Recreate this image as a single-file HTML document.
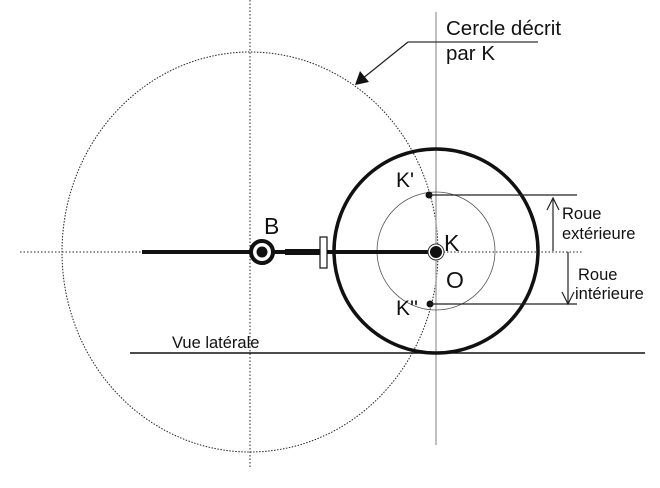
<!DOCTYPE html>
<html><head><style>body{margin:0;background:#fff}svg{display:block}text{font-family:"Liberation Sans",sans-serif;fill:#111}</style></head><body>
<svg width="660" height="488" viewBox="0 0 660 488">
<line x1="250" y1="0" x2="250" y2="468" stroke="#222" stroke-width="1" stroke-dasharray="1.5,2"/>
<ellipse cx="250" cy="252" rx="188" ry="200" fill="none" stroke="#222" stroke-width="1" stroke-dasharray="1.5,1.5"/>
<line x1="20" y1="252" x2="582" y2="252" stroke="#222" stroke-width="1" stroke-dasharray="1.5,2"/>
<line x1="436" y1="12" x2="436" y2="445" stroke="#aaa" stroke-width="1.5"/>
<line x1="408" y1="42" x2="538" y2="42" stroke="#333" stroke-width="1.2"/>
<line x1="408" y1="42" x2="362" y2="79" stroke="#222" stroke-width="1.3"/>
<polygon points="355,85 360,71 369,82" fill="#111"/>
<text x="446" y="35" font-size="20.5">Cercle décrit</text>
<text x="446" y="60" font-size="20.5">par K</text>
<circle cx="436" cy="251" r="102" fill="none" stroke="#111" stroke-width="3.5"/>
<circle cx="436" cy="251" r="59" fill="none" stroke="#555" stroke-width="0.8"/>
<line x1="130" y1="353" x2="645" y2="353" stroke="#111" stroke-width="1.5"/>
<text x="172" y="348" font-size="16.5">Vue latérale</text>
<line x1="142" y1="252" x2="436" y2="252" stroke="#111" stroke-width="4"/>
<line x1="285" y1="252" x2="320" y2="252" stroke="#111" stroke-width="6"/>
<rect x="320" y="237" width="7" height="31" fill="#fff" stroke="#111" stroke-width="1.2"/>
<circle cx="262" cy="252" r="11" fill="#fff" stroke="#111" stroke-width="4"/>
<circle cx="262" cy="252" r="5.5" fill="#111"/>
<text x="264" y="234" font-size="23">B</text>
<circle cx="436" cy="252" r="8" fill="#fff" stroke="#333" stroke-width="1"/>
<circle cx="436" cy="252" r="6" fill="#111"/>
<text x="444" y="251" font-size="23">K</text>
<text x="446" y="288" font-size="23">O</text>
<text x="396" y="187" font-size="21">K'</text>
<text x="396" y="315" font-size="21">K''</text>
<circle cx="429" cy="195" r="3.5" fill="#111"/>
<circle cx="430" cy="304" r="3.5" fill="#111"/>
<line x1="429" y1="195" x2="577" y2="195" stroke="#222" stroke-width="1.2"/>
<line x1="430" y1="304" x2="577" y2="304" stroke="#222" stroke-width="1.2"/>
<line x1="553" y1="251" x2="553" y2="199" stroke="#222" stroke-width="1.2"/>
<polyline points="547,210 553,198 559,210" fill="none" stroke="#222" stroke-width="1.2"/>
<line x1="568" y1="252" x2="568" y2="303" stroke="#222" stroke-width="1.2"/>
<polyline points="562,292 568,304 574,292" fill="none" stroke="#222" stroke-width="1.2"/>
<text x="562" y="219" font-size="16.5">Roue</text>
<text x="562" y="239" font-size="16.5">extérieure</text>
<text x="578" y="280" font-size="16.5">Roue</text>
<text x="575" y="299" font-size="16.5">intérieure</text>
</svg>
</body></html>
